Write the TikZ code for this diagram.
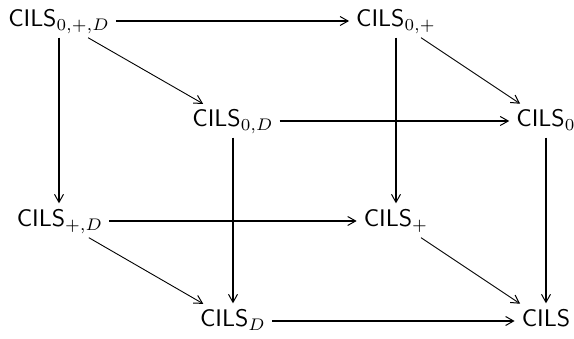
\documentclass[tikz,border=0pt]{standalone}
\usepackage{graphicx}
\usetikzlibrary{arrows.meta}
\newcommand{\bigobj}[1]{\scalebox{2.4}{$#1$}}
\begin{document}
\begin{tikzpicture}[x=1pt,y=-1pt,
  obj/.style={text height=17pt, text depth=6pt, inner xsep=6pt, inner ysep=5pt},
  arr/.style={-{Straight Barb[length=8pt,width=9pt,line width=1pt]}, shorten >=1pt},
  diag/.style={arr, line width=0.9pt},
  vert/.style={arr, line width=1.8pt},
  hthin/.style={arr, line width=1.5pt},
  hthick/.style={arr, line width=2.8pt}]
\useasboundingbox (0,0) rectangle (574,339);
\node[obj] (a) at (59,21)  {\bigobj{\mathsf{CILS}_{0,+,D}}};
\node[obj] (b) at (396,21) {\bigobj{\mathsf{CILS}_{0,+}}};
\node[obj] (c) at (233,121) {\bigobj{\mathsf{CILS}_{0,D}}};
\node[obj] (d) at (546,121) {\bigobj{\mathsf{CILS}_{0}}};
\node[obj] (e) at (60,221) {\bigobj{\mathsf{CILS}_{+,D}}};
\node[obj] (f) at (396,221) {\bigobj{\mathsf{CILS}_{+}}};
\node[obj] (g) at (233,321) {\bigobj{\mathsf{CILS}_{D}}};
\node[obj] (h) at (546,321) {\bigobj{\mathsf{CILS}}};
\draw[diag] (a) -- (c);
\draw[diag] (b) -- (d);
\draw[diag] (e) -- (g);
\draw[diag] (f) -- (h);
\draw[vert] (a) -- (a |- e.north);
\draw[vert] (c) -- (c |- g.north);
\draw[vert] (b) -- (b |- f.north);
\draw[vert] (d) -- (d |- h.north);
\draw[hthin] (a) -- (b);
\draw[hthick] (c) -- (d);
\draw[hthick] (e) -- (f);
\draw[hthin] (g) -- (h);
\end{tikzpicture}
\end{document}
